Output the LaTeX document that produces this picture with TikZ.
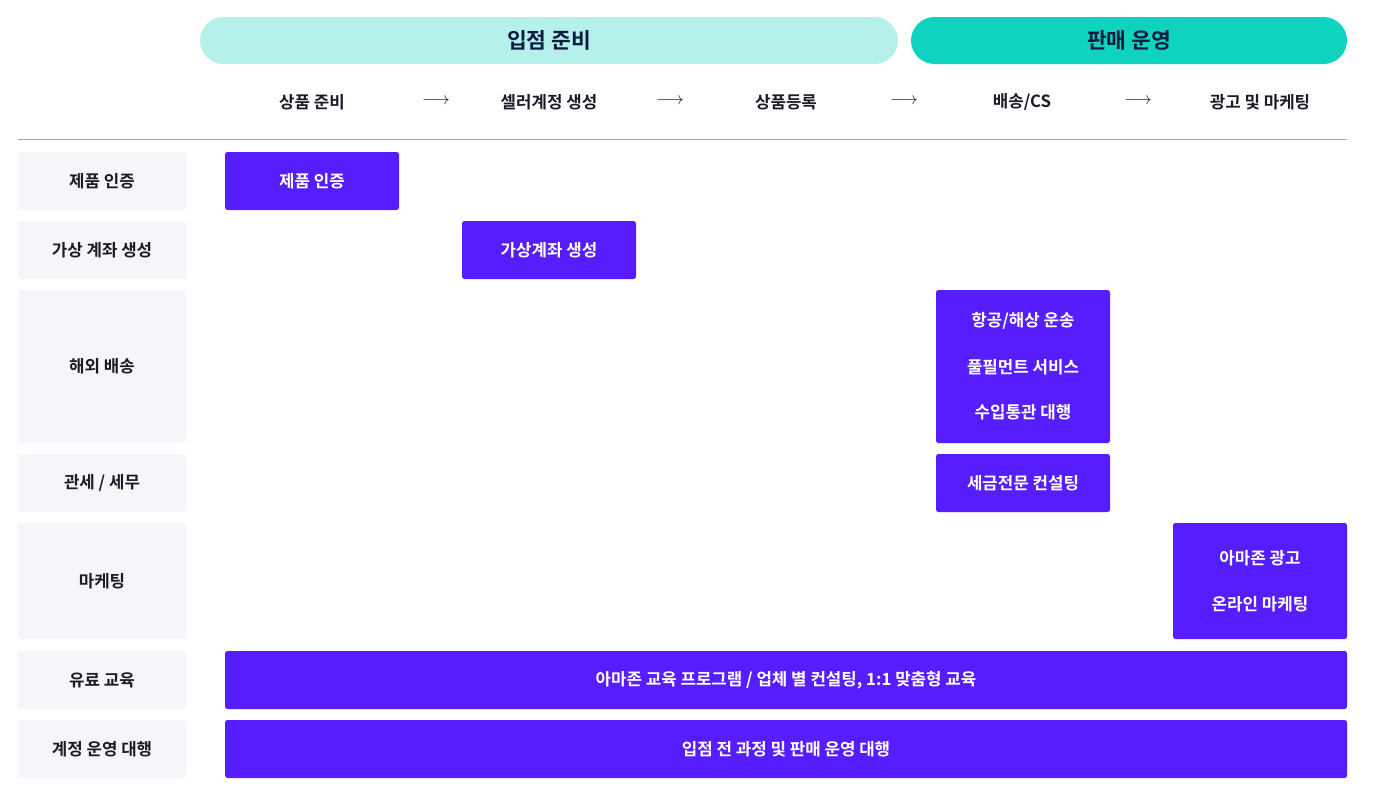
\documentclass[tikz,border=0pt]{standalone}
\usepackage{fontspec}
\setmainfont{Noto Sans CJK KR}[BoldFont={Noto Sans CJK KR Bold}]
\definecolor{pillA}{HTML}{B5F1EA}
\definecolor{pillB}{HTML}{0DD3BF}
\definecolor{navy}{HTML}{0E1C40}
\definecolor{ink}{HTML}{1C1C28}
\definecolor{side}{HTML}{F4F6FA}
\definecolor{purp}{HTML}{561EFF}
\definecolor{rule}{HTML}{A8A8B0}
\newcommand{\bodyfont}{\fontsize{16.8}{20}\selectfont\bfseries}
\tikzset{
  pill/.style={rounded corners=23.5pt, minimum height=47pt, inner sep=0pt, font=\fontsize{21.5}{25}\selectfont\bfseries, text=navy},
  colhead/.style={font=\bodyfont, text=ink, inner sep=0pt},
  arr/.style={font=\fontsize{16}{19}\selectfont, text=ink, inner sep=0pt},
  sidebox/.style={fill=side, rounded corners=2pt, minimum width=168pt, inner sep=0pt, font=\bodyfont, text=ink},
  pbox/.style={fill=purp, rounded corners=2.5pt, inner sep=0pt, font=\bodyfont, text=white, align=center},
  ptext/.style={font=\bodyfont, text=white, inner sep=0pt},
}
\begin{document}
\begin{tikzpicture}[x=1pt,y=-1pt]
\useasboundingbox (0,0) rectangle (1392,796);
% phase pills
\node[pill, fill=pillA, minimum width=698pt] (p1) at (549,40.5) {입점 준비};
\node[pill, fill=pillB, minimum width=436pt] (p2) at (1129,40.5) {판매 운영};
% column headings
\node[colhead] (c1) at (312,102) {상품 준비};
\node[colhead] (c2) at (549,102) {셀러계정 생성};
\node[colhead] (c3) at (786,102) {상품등록};
\node[colhead] (c4) at (1022,102) {배송/CS};
\node[colhead] (c5) at (1260,102) {광고 및 마케팅};
\node[arr] (a1) at (436,101) {$\longrightarrow$};
\node[arr] (a2) at (670,101) {$\longrightarrow$};
\node[arr] (a3) at (904,101) {$\longrightarrow$};
\node[arr] (a4) at (1138,101) {$\longrightarrow$};
% rule
\coordinate (r0) at (18,139);
\coordinate (r1) at (1347,139);
\draw[rule, line width=0.8pt] (r0) -- (r1);
% side labels
\node[sidebox, minimum height=58pt] (s1) at (102,181) {제품 인증};
\node[sidebox, minimum height=58pt] (s2) at (102,250) {가상 계좌 생성};
\node[sidebox, minimum height=153pt] (s3) at (102,366.5) {해외 배송};
\node[sidebox, minimum height=58pt] (s4) at (102,483) {관세 / 세무};
\node[sidebox, minimum height=116pt] (s5) at (102,581) {마케팅};
\node[sidebox, minimum height=58pt] (s6) at (102,680) {유료 교육};
\node[sidebox, minimum height=58pt] (s7) at (102,749) {계정 운영 대행};
% purple boxes
\node[pbox, minimum width=174pt, minimum height=58pt] (b1) at (312,181) {제품 인증};
\node[pbox, minimum width=174pt, minimum height=58pt] (b2) at (549,250) {가상계좌 생성};
\node[pbox, minimum width=174pt, minimum height=153pt] (b3) at (1023,366.5) {};
\node[ptext] (b3a) at (1023,321) {항공/해상 운송};
\node[ptext] (b3b) at (1023,367) {풀필먼트 서비스};
\node[ptext] (b3c) at (1023,412) {수입통관 대행};
\node[pbox, minimum width=174pt, minimum height=58pt] (b4) at (1023,483) {세금전문 컨설팅};
\node[pbox, minimum width=174pt, minimum height=116pt] (b5) at (1260,581) {};
\node[ptext] (b5a) at (1260,558) {아마존 광고};
\node[ptext] (b5b) at (1260,604) {온라인 마케팅};
\node[pbox, minimum width=1122pt, minimum height=58pt] (b6) at (786,680) {아마존 교육 프로그램 / 업체 별 컨설팅, 1:1 맞춤형 교육};
\node[pbox, minimum width=1122pt, minimum height=58pt] (b7) at (786,749) {입점 전 과정 및 판매 운영 대행};
\end{tikzpicture}
\end{document}
